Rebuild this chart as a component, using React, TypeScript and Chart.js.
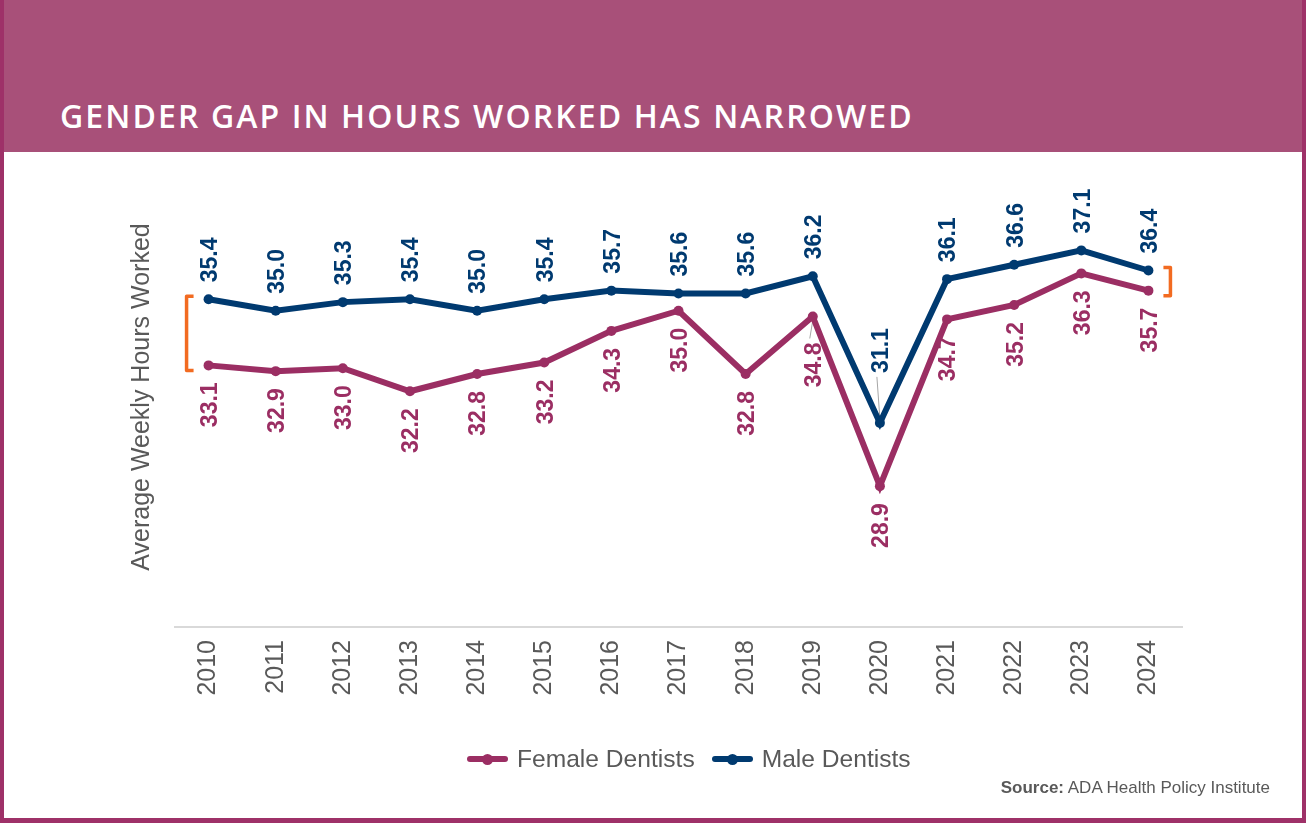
import { useEffect, useRef } from 'react';
import { Chart, registerables } from 'chart.js';

Chart.register(...registerables);

const years = ['2010', '2011', '2012', '2013', '2014', '2015', '2016', '2017', '2018', '2019', '2020', '2021', '2022', '2023', '2024'];
const femaleHours = [33.1, 32.9, 33.0, 32.2, 32.8, 33.2, 34.3, 35.0, 32.8, 34.8, 28.9, 34.7, 35.2, 36.3, 35.7];
const maleHours = [35.4, 35.0, 35.3, 35.4, 35.0, 35.4, 35.7, 35.6, 35.6, 36.2, 31.1, 36.1, 36.6, 37.1, 36.4];

const FEMALE = '#9B2E63';
const MALE = '#003A70';
const ORANGE = '#F26B21';
const HEADER = '#A85079';
const BORDER = '#9E3168';
const GRAY = '#595959';
const FONT = 'Arial, "Liberation Sans", sans-serif';

// labels that sit further from their point and get a thin leader line
const leaderGaps: Record<string, Record<string, number>> = {
  female: { '2019': 26 },
  male: { '2020': 50 },
};

const valueLabels = {
  id: 'valueLabels',
  beforeDatasetsDraw(chart: any) {
    const { ctx } = chart;
    chart.data.datasets.forEach((ds: any, di: number) => {
      const meta = chart.getDatasetMeta(di);
      const above = ds.key === 'male';
      meta.data.forEach((pt: any, i: number) => {
        const year = chart.data.labels[i];
        const leader = leaderGaps[ds.key][year];
        const gap = leader ?? 17;
        ctx.save();
        if (leader) {
          ctx.strokeStyle = '#A6A6A6';
          ctx.lineWidth = 1;
          ctx.beginPath();
          if (above) {
            ctx.moveTo(pt.x, pt.y - 4);
            ctx.lineTo(pt.x - 3, pt.y - gap + 4);
          } else {
            ctx.moveTo(pt.x, pt.y + 4);
            ctx.lineTo(pt.x - 3, pt.y + gap - 4);
          }
          ctx.stroke();
        }
        ctx.fillStyle = ds.borderColor;
        ctx.font = `bold 23px ${FONT}`;
        ctx.textBaseline = 'middle';
        ctx.translate(pt.x + 2, above ? pt.y - gap : pt.y + gap);
        ctx.rotate(-Math.PI / 2);
        ctx.textAlign = above ? 'left' : 'right';
        ctx.fillText(Number(ds.data[i]).toFixed(1), 0, 0);
        ctx.restore();
      });
    });
  },
};

// orange brackets showing the gap in the first and last year
const gapBrackets = {
  id: 'gapBrackets',
  afterDatasetsDraw(chart: any) {
    const { ctx } = chart;
    const f = chart.getDatasetMeta(0).data;
    const m = chart.getDatasetMeta(1).data;
    const draw = (i: number, dir: number) => {
      const x = m[i].x + dir * 22;
      const top = m[i].y - 3;
      const bottom = f[i].y + 5;
      ctx.save();
      ctx.strokeStyle = ORANGE;
      ctx.lineWidth = 3.5;
      ctx.lineJoin = 'round';
      ctx.beginPath();
      ctx.moveTo(x - dir * 7, top);
      ctx.lineTo(x, top);
      ctx.lineTo(x, bottom);
      ctx.lineTo(x - dir * 7, bottom);
      ctx.stroke();
      ctx.restore();
    };
    draw(0, -1);
    draw(m.length - 1, 1);
  },
};

function LegendItem({ color, label }: { color: string; label: string }) {
  return (
    <div style={{ display: 'flex', alignItems: 'center', marginRight: 17 }}>
      <div style={{ position: 'relative', width: 41, height: 6, borderRadius: 3, background: color, marginRight: 9 }}>
        <div style={{ position: 'absolute', left: 15, top: -2.5, width: 11, height: 11, borderRadius: '50%', background: color }} />
      </div>
      <span>{label}</span>
    </div>
  );
}

export default function App() {
  const canvasRef = useRef<HTMLCanvasElement | null>(null);
  const chartRef = useRef<Chart | null>(null);

  useEffect(() => {
    if (!canvasRef.current) return;
    chartRef.current?.destroy();
    chartRef.current = new Chart(canvasRef.current, {
      type: 'line',
      data: {
        labels: years,
        datasets: [
          {
            key: 'female',
            label: 'Female Dentists',
            data: femaleHours,
            borderColor: FEMALE,
            backgroundColor: FEMALE,
            borderWidth: 6,
            pointRadius: 5,
            pointBorderWidth: 0,
            tension: 0,
          } as any,
          {
            key: 'male',
            label: 'Male Dentists',
            data: maleHours,
            borderColor: MALE,
            backgroundColor: MALE,
            borderWidth: 6,
            pointRadius: 5,
            pointBorderWidth: 0,
            tension: 0,
          } as any,
        ],
      },
      options: {
        animation: false,
        responsive: false,
        maintainAspectRatio: false,
        layout: { padding: { top: 167, right: 124, bottom: 0, left: 0 } },
        plugins: {
          legend: { display: false },
          tooltip: { enabled: false },
        },
        scales: {
          x: {
            offset: true,
            grid: { display: false, drawTicks: false },
            border: { display: true, color: '#D9D9D9', width: 2 },
            ticks: {
              minRotation: 90,
              maxRotation: 90,
              padding: 13,
              color: GRAY,
              font: { family: FONT, size: 25 },
            },
            afterFit: (s: any) => {
              s.height = 196;
            },
          },
          y: {
            min: 24,
            max: 40,
            grid: { display: false, drawTicks: false },
            border: { display: false },
            ticks: { display: false },
            title: {
              display: true,
              text: 'Average Weekly Hours Worked',
              color: GRAY,
              font: { family: FONT, size: 25 },
              padding: { top: 127, bottom: 0 },
            },
            afterFit: (s: any) => {
              s.width = 175;
            },
          },
        },
      },
      plugins: [valueLabels, gapBrackets],
    });
    return () => {
      chartRef.current?.destroy();
      chartRef.current = null;
    };
  }, []);

  return (
    <div style={{ position: 'relative', width: 1306, height: 823, background: '#fff', overflow: 'hidden', fontFamily: FONT }}>
      <style>{'body{margin:0}'}</style>
      <div style={{ position: 'absolute', left: 0, top: 0, width: 1306, height: 152, background: HEADER }} />
      <div
        style={{
          position: 'absolute',
          left: 60,
          top: 98,
          fontFamily: '"Open Sans", sans-serif',
          fontWeight: 600,
          fontSize: 32,
          lineHeight: '36px',
          letterSpacing: 2.1,
          color: '#fff',
          whiteSpace: 'nowrap',
        }}
      >
        GENDER GAP IN HOURS WORKED HAS NARROWED
      </div>
      <canvas ref={canvasRef} width={1306} height={823} style={{ position: 'absolute', left: 0, top: 0 }} />
      <div
        style={{
          position: 'absolute',
          left: 467,
          top: 744,
          height: 30,
          display: 'flex',
          alignItems: 'center',
          fontSize: 24.6,
          color: GRAY,
          whiteSpace: 'nowrap',
        }}
      >
        <LegendItem color={FEMALE} label="Female Dentists" />
        <LegendItem color={MALE} label="Male Dentists" />
      </div>
      <div style={{ position: 'absolute', right: 36, top: 777, fontSize: 17, lineHeight: '22px', color: GRAY, whiteSpace: 'nowrap' }}>
        <b>Source:</b> ADA Health Policy Institute
      </div>
      <div style={{ position: 'absolute', left: 0, top: 0, width: 4, height: 823, background: BORDER }} />
      <div style={{ position: 'absolute', right: 0, top: 0, width: 4, height: 823, background: BORDER }} />
      <div style={{ position: 'absolute', left: 0, bottom: 0, width: 1306, height: 5, background: BORDER }} />
    </div>
  );
}
